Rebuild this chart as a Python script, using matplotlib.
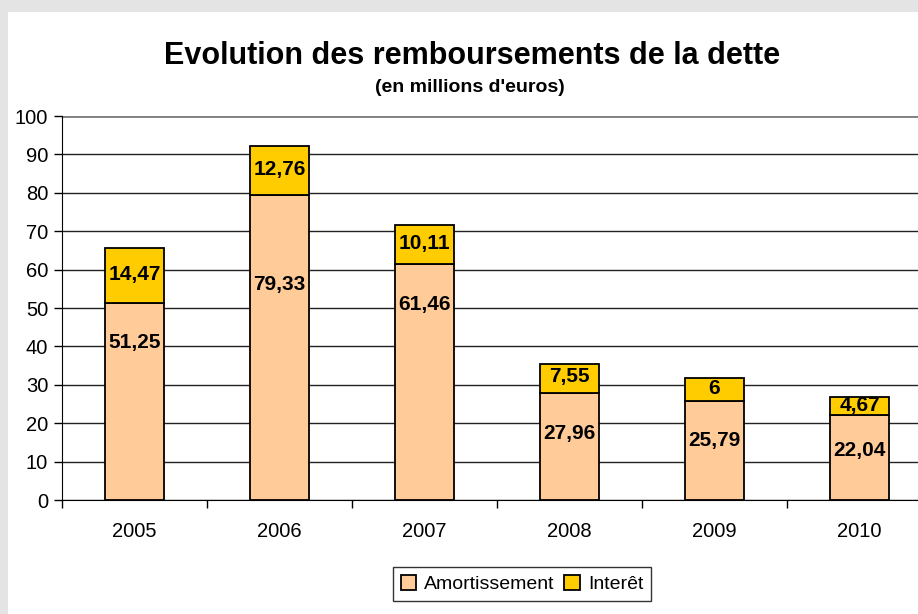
import matplotlib.pyplot as plt
import matplotlib.patches as mpatches
import numpy as np

plt.rcParams['font.family'] = ['Liberation Sans', 'DejaVu Sans']

annees = ['2005', '2006', '2007', '2008', '2009', '2010']
amortissement = [51.25, 79.33, 61.46, 27.96, 25.79, 22.04]
interet = [14.47, 12.76, 10.11, 7.55, 6, 4.67]
labels_amort = ['51,25', '79,33', '61,46', '27,96', '25,79', '22,04']
labels_int = ['14,47', '12,76', '10,11', '7,55', '6', '4,67']

W, H = 918, 614
fig = plt.figure(figsize=(W/100, H/100), dpi=100)
fig.patch.set_facecolor('#e4e4e4')
# panneau blanc
fig.patches.append(mpatches.Rectangle((8/W, 0), 1, (H-12)/H, transform=fig.transFigure,
                                      facecolor='white', edgecolor='none', zorder=-5))

# axes: x de 62 a 932 px, y de 116 a 500 px
ax = fig.add_axes([62/W, (H-500)/H, 870/W, 384/H])
ax.set_facecolor('white')

x = np.arange(len(annees))
w = 0.41
ax.bar(x, amortissement, w, color='#FFCC99', edgecolor='black', linewidth=1.3, zorder=3,
       label='Amortissement')
ax.bar(x, interet, w, bottom=amortissement, color='#FFCC00', edgecolor='black', linewidth=1.3,
       zorder=3, label='Interêt')

# hauteur des etiquettes d'amortissement (comme placees dans l'original)
y_etiq = [40.9, 56.0, 50.8, 17.4, 15.4, 13.0]
for i in range(len(annees)):
    ax.text(x[i], y_etiq[i], labels_amort[i], ha='center', va='center', fontsize=15,
            fontweight='bold', zorder=4)
    ax.text(x[i], amortissement[i] + interet[i]/2 + 0.3, labels_int[i], ha='center',
            va='center', fontsize=15, fontweight='bold', zorder=4)

ax.set_xlim(-0.5, 5.5)
ax.set_ylim(0, 100)
ax.set_yticks(np.arange(0, 101, 10))
ax.yaxis.grid(True, color='#222222', linewidth=1)
ax.set_axisbelow(True)
ax.set_xticks(x)
ax.set_xticklabels(annees)
ax.set_xticks(np.arange(-0.5, 6, 1), minor=True)
ax.tick_params(axis='x', which='major', length=0, pad=16, labelsize=14.5)
ax.tick_params(axis='x', which='minor', length=6, width=1, direction='out', color='black')
ax.tick_params(axis='y', length=6, width=1, direction='out', pad=4, labelsize=14.5)
for s in ['top', 'right']:
    ax.spines[s].set_visible(False)
ax.spines['left'].set_color('black')
ax.spines['bottom'].set_color('black')
ax.axhline(100, color='#808080', linewidth=2, zorder=2)

fig.text(472/W, 1 - 56/H, 'Evolution des remboursements de la dette', ha='center', va='center',
         fontsize=22, fontweight='bold')
fig.text(470/W, 1 - 88/H, "(en millions d'euros)", ha='center', va='center',
         fontsize=14, fontweight='bold')

leg = fig.legend(loc='center', bbox_to_anchor=(522/W, 1 - 584/H), ncol=2, fontsize=14,
                 frameon=True, fancybox=False, edgecolor='black', handlelength=0.8,
                 handleheight=0.8, handletextpad=0.4, columnspacing=0.5, borderpad=0.4)
leg.get_frame().set_linewidth(1)

plt.savefig('out.png', dpi=100, facecolor=fig.get_facecolor())
